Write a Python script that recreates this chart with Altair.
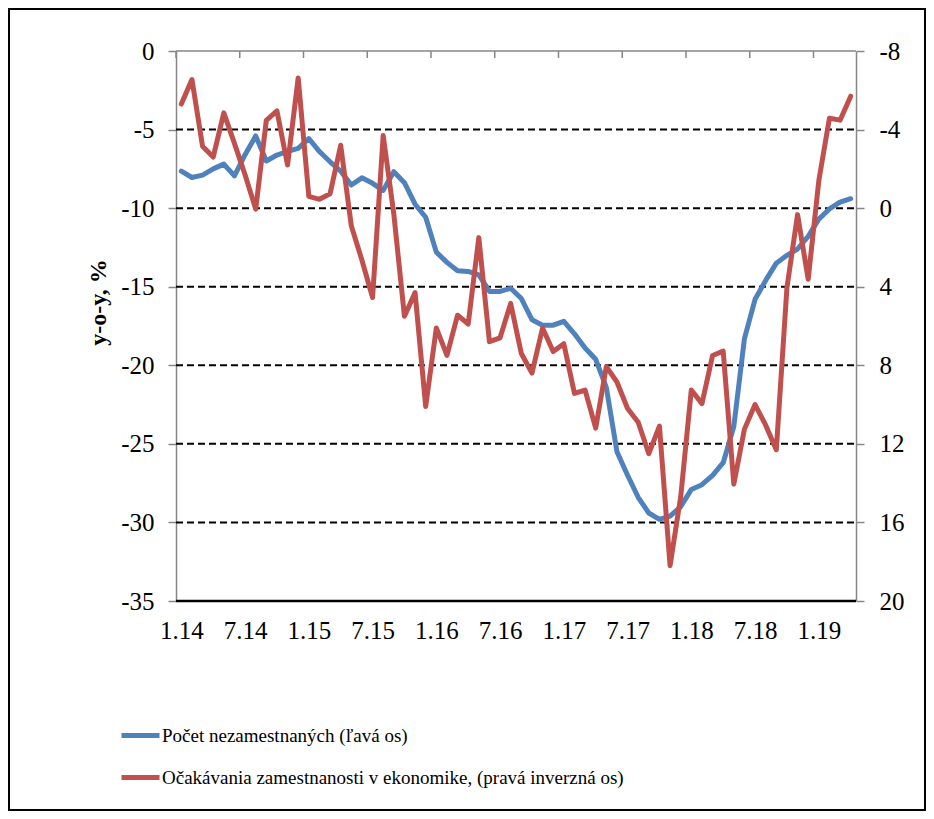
import altair as alt
import pandas as pd

# ---- data ----
unemployed = [-7.65, -8.05, -7.9, -7.5, -7.2, -7.95, -6.6, -5.4, -7.0, -6.62,
              -6.38, -6.2, -5.57, -6.4, -7.05, -7.65, -8.53, -8.07, -8.42, -8.87,
              -7.68, -8.38, -9.75, -10.58, -12.8, -13.45, -13.98, -14.03, -14.25, -15.3,
              -15.3, -15.1, -15.75, -17.1, -17.45, -17.45, -17.2, -18.0, -18.9, -19.62,
              -21.4, -25.5, -27.0, -28.4, -29.4, -29.8, -29.6, -29.0, -27.9, -27.6,
              -27.0, -26.2, -23.9, -18.3, -15.8, -14.6, -13.5, -13.0, -12.6, -11.8,
              -10.7, -10.05, -9.62, -9.4]
expectations = [-5.3, -6.55, -3.15, -2.6, -4.85, -3.3, -1.7, 0.05, -4.47, -4.95,
                -2.2, -6.63, -0.6, -0.45, -0.73, -3.2, 0.9, 2.65, 4.55, -3.7,
                0.3, 5.5, 4.3, 10.1, 6.1, 7.5, 5.45, 5.9, 1.5, 6.8,
                6.6, 4.85, 7.4, 8.4, 6.1, 7.3, 6.9, 9.43, 9.26, 11.2,
                8.07, 8.85, 10.2, 10.9, 12.5, 11.1, 18.2, 14.7, 9.26, 9.95,
                7.5, 7.28, 14.05, 11.25, 10.0, 11.05, 12.3, 4.05, 0.33, 3.62,
                -1.4, -4.58, -4.48, -5.7]
x_tick_labels = ["1.14", "7.14", "1.15", "7.15", "1.16", "7.16",
                 "1.17", "7.17", "1.18", "7.18", "1.19"]
left_ticks = [0, -5, -10, -15, -20, -25, -30, -35]
right_ticks = [-8, -4, 0, 4, 8, 12, 16, 20]
grid_values = [-5, -10, -15, -20, -25, -30]
series_names = ["Počet nezamestnaných (ľavá os)",
                "Očakávania zamestnanosti v ekonomike, (pravá inverzná os)"]
colors = ["#4F81BD", "#C0504D"]

n = len(unemployed)
df = pd.DataFrame({"i": list(range(n)), "unemp": unemployed, "expect": expectations})
tick_df = pd.DataFrame({"b": [k * 6 - 0.5 for k in range(len(x_tick_labels))]})
grid_df = pd.DataFrame({"g": grid_values})
one = pd.DataFrame({"a": [0]})

W, H = 680, 550
GRAY = "#868686"
FONT = "Liberation Serif, Times New Roman, serif"

label_js = "[" + ",".join("'" + s + "'" for s in x_tick_labels) + "][round(datum.value/6)]"
x_scale = alt.Scale(domain=[-0.5, n - 0.5], nice=False, zero=False)
x_axis = alt.Axis(values=list(range(0, 6 * len(x_tick_labels), 6)), labelExpr=label_js,
                  ticks=False, domain=False, grid=False, labelFont=FONT, labelFontSize=25,
                  labelColor="black", labelPadding=17, title=None)

left_scale = alt.Scale(domain=[-35, 0], nice=False, zero=False)
left_axis = alt.Axis(orient="left", values=left_ticks, labelExpr="datum.value + ''",
                     grid=False, domainColor=GRAY, domainWidth=1.5, tickColor=GRAY,
                     tickWidth=1.5, tickSize=8, labelPadding=14, labelFont=FONT,
                     labelFontSize=25, labelColor="black", title="y-o-y, %",
                     titleFont=FONT, titleFontSize=24, titleFontWeight="bold",
                     titleColor="black", titleX=-66, titleY=251)
right_scale = alt.Scale(domain=[-8, 20], reverse=True, nice=False, zero=False)
right_axis = alt.Axis(orient="right", values=right_ticks, labelExpr="datum.value + ''",
                      grid=False, domainColor=GRAY, domainWidth=1.5, tickColor=GRAY,
                      tickWidth=1.5, tickSize=8, labelPadding=15, labelFont=FONT,
                      labelFontSize=25, labelColor="black", title=None)

color = alt.Color("series:N",
                  scale=alt.Scale(domain=series_names, range=colors),
                  legend=alt.Legend(orient="none", legendX=-57, legendY=663, title=None,
                                    symbolType="stroke", symbolStrokeWidth=5,
                                    symbolSize=1444, labelFont=FONT, labelFontSize=19,
                                    labelColor="black", labelLimit=900, labelOffset=0,
                                    rowPadding=10, padding=0, direction="vertical"))

frame = alt.Chart(one).mark_rect(fillOpacity=0, stroke="black", strokeWidth=2).encode(
    x=alt.value(-167), x2=alt.value(749), y=alt.value(-42), y2=alt.value(759))

grid = alt.Chart(grid_df).mark_rule(color="black", strokeWidth=2, strokeDash=[7, 4]).encode(
    y=alt.Y("g:Q", scale=left_scale, axis=left_axis),
    x=alt.value(0), x2=alt.value(W))

top_line = alt.Chart(one).mark_rule(color=GRAY, strokeWidth=1.5).encode(
    x=alt.value(0), x2=alt.value(W), y=alt.value(0))
bottom_line = alt.Chart(one).mark_rule(color="black", strokeWidth=2.5).encode(
    x=alt.value(0), x2=alt.value(W), y=alt.value(H))
top_ticks = alt.Chart(tick_df).mark_rule(color=GRAY, strokeWidth=1.5).encode(
    x=alt.X("b:Q", scale=x_scale, axis=x_axis), y=alt.value(0), y2=alt.value(7))

blue = alt.Chart(df).transform_calculate(series="'" + series_names[0] + "'").mark_line(
    strokeWidth=5, strokeJoin="round", strokeCap="round").encode(
    x=alt.X("i:Q", scale=x_scale, axis=x_axis),
    y=alt.Y("unemp:Q", scale=left_scale, axis=left_axis),
    color=color)

red = alt.Chart(df).transform_calculate(series="'" + series_names[1] + "'").mark_line(
    strokeWidth=5, strokeJoin="round", strokeCap="round").encode(
    x=alt.X("i:Q", scale=x_scale, axis=x_axis),
    y=alt.Y("expect:Q", scale=right_scale, axis=right_axis),
    color=color)

left_group = alt.layer(frame, grid, top_line, bottom_line, top_ticks, blue)

chart = alt.layer(left_group, red).resolve_scale(y="independent").properties(
    width=W, height=H,
    autosize=alt.AutoSizeParams(type="none"),
    padding={"left": 168, "top": 43, "right": 70, "bottom": 211},
    background="white",
).configure_view(stroke="transparent").configure_legend(
    labelFont=FONT, labelFontSize=19, labelColor="black")

chart.save("out.html", embed_options={"renderer": "svg", "actions": False})
